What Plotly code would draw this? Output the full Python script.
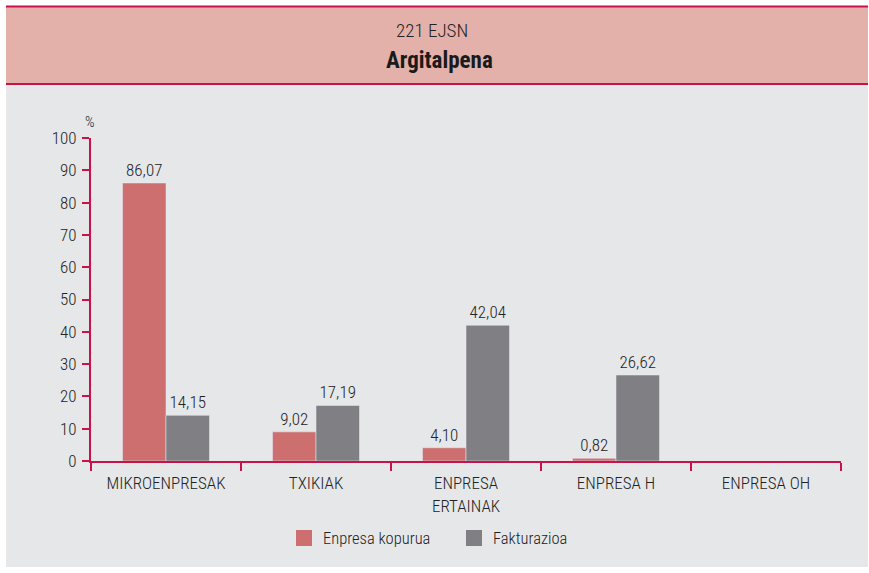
import plotly.graph_objects as go

categories = ["MIKROENPRESAK", "TXIKIAK", "ENPRESA<br>ERTAINAK", "ENPRESA H", "ENPRESA OH"]
enpresa_kopurua = [86.07, 9.02, 4.10, 0.82, None]
fakturazioa = [14.15, 17.19, 42.04, 26.62, None]
series_names = ["Enpresa kopurua", "Fakturazioa"]
y_ticks = [0, 10, 20, 30, 40, 50, 60, 70, 80, 90, 100]

W, H = 869, 573
L, R, T, B = 91, 841, 138, 461  # plot area in pixels

def px(x):
    return (x - L) / (R - L)

def py(y):
    return (B - y) / (B - T)

def fmt(v):
    return "" if v is None else f"{v:.2f}".replace(".", ",")

RED = "#cd6f6e"
GRAY = "#808084"
CRIMSON = "#c8124a"
TXT = "#222222"
FONT = "Liberation Sans Narrow, Arial Narrow, Roboto Condensed, Arial, sans-serif"
colors = [RED, GRAY]

def f(size, color=TXT, weight=300):
    return dict(size=size, color=color, family=FONT, weight=weight)

fig = go.Figure()
for name, vals, col in zip(series_names, [enpresa_kopurua, fakturazioa], colors):
    fig.add_trace(go.Bar(x=categories, y=vals, name=name, marker_color=col,
                         text=[fmt(v) for v in vals], textposition="outside",
                         textfont=f(17), cliponaxis=False))

shapes = [
    dict(type="rect", xref="paper", yref="paper", x0=px(6), x1=px(868), y0=py(567), y1=py(85),
         fillcolor="#e6e7e9", line_width=0, layer="below"),
    dict(type="rect", xref="paper", yref="paper", x0=px(6), x1=px(868), y0=py(85), y1=py(6),
         fillcolor="#e4b1aa", line_width=0, layer="below"),
    dict(type="line", xref="paper", yref="paper", x0=px(6), x1=px(868), y0=py(6.5), y1=py(6.5),
         line=dict(color=CRIMSON, width=2), layer="below"),
    dict(type="line", xref="paper", yref="paper", x0=px(6), x1=px(868), y0=py(84), y1=py(84),
         line=dict(color=CRIMSON, width=2), layer="below"),
]

annotations = [
    dict(text="221 EJSN", xref="paper", yref="paper", x=px(432), y=py(31), showarrow=False,
         font=f(19), xanchor="center", yanchor="middle"),
    dict(text="<b>Argitalpena</b>", xref="paper", yref="paper", x=px(439), y=py(60), showarrow=False,
         font=f(23, "#1a1a1a", 700), xanchor="center", yanchor="middle"),
    dict(text="%", xref="paper", yref="paper", x=px(90), y=py(122), showarrow=False,
         font=f(15), xanchor="center", yanchor="middle"),
]

# custom legend: squares + labels
legend_x = [296, 466]
for name, col, lx in zip(series_names, colors, legend_x):
    shapes.append(dict(type="rect", xref="paper", yref="paper", x0=px(lx), x1=px(lx + 16),
                       y0=py(546), y1=py(530), fillcolor=col, line_width=0))
    annotations.append(dict(text=name, xref="paper", yref="paper", x=px(lx + 25), y=py(538),
                            showarrow=False, xanchor="left", yanchor="middle", font=f(16.5)))

fig.update_layout(
    width=W, height=H,
    margin=dict(l=L, r=W - R, t=T, b=H - B, autoexpand=False),
    paper_bgcolor="white", plot_bgcolor="rgba(0,0,0,0)",
    barmode="group", bargap=0.42, bargroupgap=0,
    font=f(17),
    shapes=shapes, annotations=annotations,
    showlegend=False,
)
fig.update_xaxes(showline=True, linecolor=CRIMSON, linewidth=2, ticks="outside", tickson="boundaries",
                 ticklen=8, tickcolor=CRIMSON, tickwidth=2, showgrid=False, ticklabelstandoff=6,
                 tickfont=f(17), fixedrange=True)
fig.update_yaxes(range=[0, 100], tickvals=y_ticks, showline=True, linecolor=CRIMSON, linewidth=2,
                 ticks="outside", ticklen=7, tickcolor=CRIMSON, tickwidth=2, showgrid=False,
                 zeroline=False, ticklabelstandoff=2, tickfont=f(17), fixedrange=True)

fig.write_html("out.html", post_script="document.body.style.margin='0';",
               config={"displayModeBar": False})
